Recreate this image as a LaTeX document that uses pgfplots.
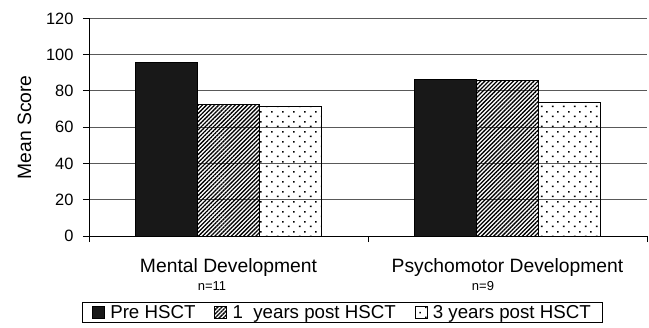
\documentclass[border=0pt]{standalone}
\usepackage{pgfplots}
\pgfplotsset{compat=1.18}
\usepackage{fontspec}
\setmainfont{Liberation Sans}
\usetikzlibrary{patterns.meta}

% staggered dot fill for the 3-year bars
\pgfdeclarepattern{
  name=staggereddots,
  type=uncolored,
  bottom left={\pgfpoint{0bp}{0bp}},
  top right={\pgfpoint{10.6bp}{10bp}},
  tile size={\pgfpoint{10.6bp}{10bp}},
  code={
    \pgfpathrectangle{\pgfpoint{1bp}{1bp}}{\pgfpoint{1.6bp}{1.6bp}}
    \pgfpathrectangle{\pgfpoint{6.3bp}{6bp}}{\pgfpoint{1.6bp}{1.6bp}}
    \pgfusepath{fill}
  }
}

\definecolor{barblack}{HTML}{181818}
\newcommand\tickfont{\fontsize{16.4bp}{19bp}\selectfont}
\newcommand\labfont{\fontsize{19.3bp}{22bp}\selectfont}
\newcommand\nfont{\fontsize{13bp}{15bp}\selectfont}
\newcommand\legfont{\fontsize{18.7bp}{21bp}\selectfont}

\begin{document}
\begin{tikzpicture}
\useasboundingbox (0,0) rectangle (649bp,328bp);
\begin{axis}[
  at={(89bp,91.8bp)}, anchor=south west,
  scale only axis, width=558bp, height=217.8bp,
  clip=false,
  ybar, bar width=62bp,
  xmin=-0.5, xmax=1.5, ymin=0, ymax=120,
  axis x line*=bottom, axis y line*=left,
  axis line style={line width=1bp, black},
  xtick={-0.5,0.5,1.5}, xticklabels={},
  ytick={0,20,40,60,80,100,120},
  tick align=outside, major tick length=6bp,
  tick style={line width=1bp, black},
  ymajorgrids, major grid style={draw=black!65, line width=1bp},
  /pgf/number format/assume math mode=true,
  yticklabel style={font=\tickfont, xshift=-6bp},
  ylabel={Mean Score},
  every axis y label/.style={at={(axis description cs:-0.1156,0.5)}, rotate=90, anchor=center, font=\labfont},
  every axis plot post/.append style={
    legend image code/.code={\draw[##1, draw=black, line width=0.6bp] (0bp,-6bp) rectangle (12bp,6bp);}
  },
  legend style={
    at={(axis description cs:0.4543,-0.3503)}, anchor=center,
    draw=black, line width=0.8bp, font=\legfont,
    legend columns=3, inner xsep=10bp, inner ysep=1bp,
    nodes={inner sep=2bp},
    /tikz/every even column/.append style={column sep=17bp},
    /tikz/every odd column/.append style={column sep=3.5bp},
  },
  legend cell align=left,
]
\addplot[fill=barblack, draw=black, line width=0.6bp, bar shift=-62bp]
  coordinates {(0,95.8) (1,86.4)};
\addplot[draw=black, line width=0.6bp, bar shift=0bp,
  pattern={Lines[angle=45,distance=2.9bp,line width=1.3bp]}, pattern color=black]
  coordinates {(0,72.7) (1,85.9)};
\addplot[draw=black, line width=0.6bp, bar shift=62bp,
  pattern=staggereddots, pattern color=black]
  coordinates {(0,71.3) (1,73.9)};
\legend{Pre HSCT, 1~\ years post HSCT, 3 years post HSCT}

\node[anchor=base, font=\labfont, yshift=-35.8bp] at (axis cs:0,0) {Mental Development};
\node[anchor=base, font=\labfont, yshift=-35.8bp] at (axis cs:1,0) {Psychomotor Development};
\node[anchor=base, font=\nfont, yshift=-54.5bp, xshift=-16.5bp] at (axis cs:0,0) {n=11};
\node[anchor=base, font=\nfont, yshift=-54.5bp, xshift=-24.5bp] at (axis cs:1,0) {n=9};
\end{axis}
\end{tikzpicture}
\end{document}
